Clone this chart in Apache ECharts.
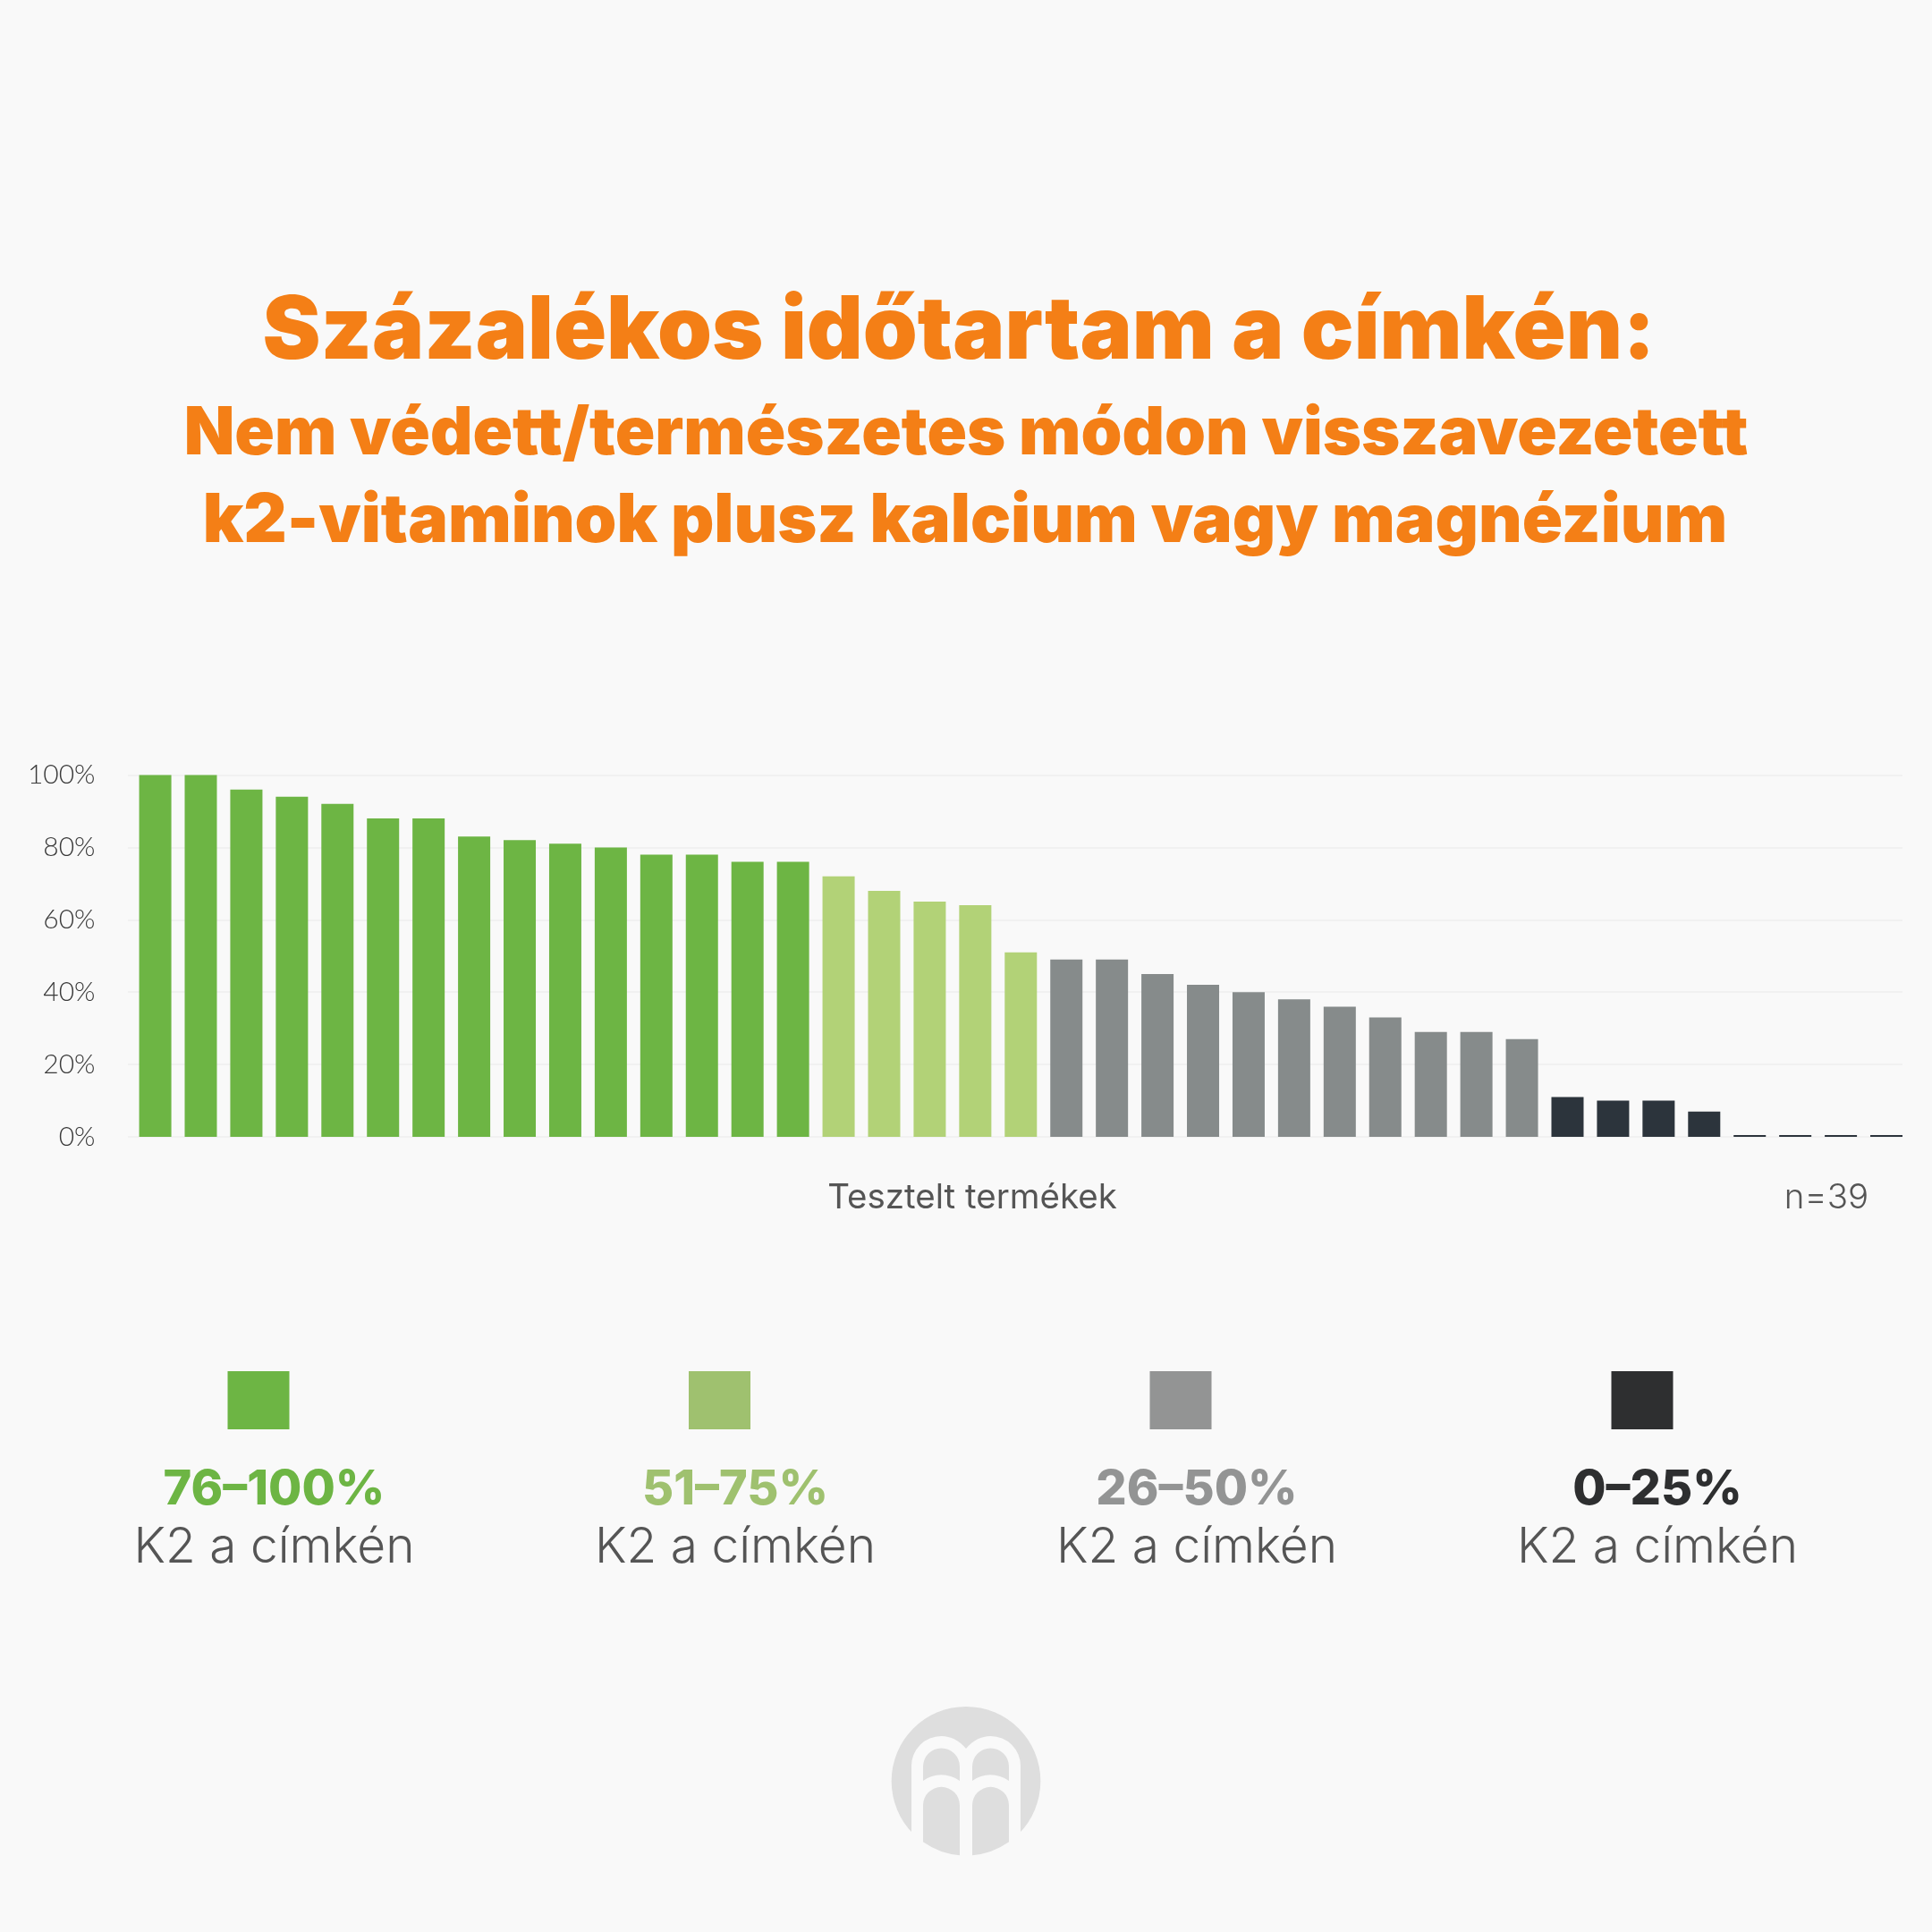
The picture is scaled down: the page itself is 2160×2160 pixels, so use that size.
<!DOCTYPE html>
<html><head><meta charset="utf-8">
<style>html,body{margin:0;padding:0;background:#f9f9f9}#c{width:2160px;height:2160px}</style>
<script src="https://cdn.jsdelivr.net/npm/echarts@6/dist/echarts.min.js"></script>
</head><body><div id="c"></div>
<script>
const productValues = [100,100,96,94,92,88,88,83,82,81,80,78,78,76,76,72,68,65,64,51,49,49,45,42,40,38,36,33,29,29,27,11,10,10,7,0,0,0,0];
const barBandFloors = [76,51,26,0];
const barBandColors = ['#6DB544','#B2D277','#868B8B','#2C343C'];
const legendRanges = ['76–100%','51–75%','26–50%','0–25%'];
const legendColors = ['#6DB544','#9FC16F','#939494','#2E2F30'];
const legendSubtitle = 'K2 a címkén';
const yTicks = [0,20,40,60,80,100];
const titleLines = ['Százalékos időtartam a címkén:','Nem védett/természetes módon visszavezetett','k2-vitaminok plusz kalcium vagy magnézium'];
const axisCaption = 'Tesztelt termékek';
const sampleNote = 'n=39';

const ORANGE = '#F47F16', HEAD = 'Inter', BODY = 'Inter';
const swatchX = [254.5,770,1285.5,1801.5], legendTextX = [306.5,822,1338,1853];
const graphics = [];
legendRanges.forEach((r,i)=>{
  graphics.push({type:'rect',shape:{x:swatchX[i],y:1533,width:69,height:65},style:{fill:legendColors[i]}});
  graphics.push({type:'text',x:legendTextX[i],y:1666,style:{text:r,fill:legendColors[i],font:'800 54px '+HEAD,textAlign:'center',textVerticalAlign:'middle'}});
  graphics.push({type:'text',x:legendTextX[i],y:1730,style:{text:legendSubtitle,fill:'#555555',font:'300 55px '+BODY,textAlign:'center',textVerticalAlign:'middle'}});
});
graphics.push({type:'text',x:1087,y:1339,style:{text:axisCaption,fill:'#555555',font:'400 38.5px '+BODY,textAlign:'center',textVerticalAlign:'middle'}});
graphics.push({type:'text',x:2042,y:1339,style:{text:sampleNote,fill:'#555555',font:'300 38.5px '+BODY,textAlign:'center',textVerticalAlign:'middle'}});
// logo
const logoPaths = [
 ['M110 334A250 250 0 1 1 610 334A250 250 0 1 1 110 334Z','#DEDEDE'],
 ['M177 600L177 283A100 100 0 0 1 277 183Q325 183 360 225Q395 183 443 183A100 100 0 0 1 543 283L543 600Z','#F9F9F9'],
 ['M216 333L216 285A61.5 61.5 0 0 1 339 285L339 333Q310 313 277 313Q244 313 216 333Z','#DEDEDE'],
 ['M381 333L381 285A61.5 61.5 0 0 1 504 285L504 333Q475 313 442 313Q409 313 381 333Z','#DEDEDE'],
 ['M216 538L216 415A61.5 61.5 0 0 1 339 415L339 583A250 250 0 0 1 216 538Z','#DEDEDE'],
 ['M381 583L381 415A61.5 61.5 0 0 1 504 415L504 538A250 250 0 0 1 381 583Z','#DEDEDE']
];
logoPaths.forEach((p,i)=>{
  echarts.graphic.registerShape('logoPart'+i, echarts.graphic.extendPath(p[0],{}));
  graphics.push({type:'logoPart'+i,x:960,y:1880,scaleX:1/3,scaleY:1/3,style:{fill:p[1]}});
});

const bandColor = v => barBandColors[barBandFloors.findIndex(f=>v>=f)];
const chart = echarts.init(document.getElementById('c'),null,{width:2160,height:2160,renderer:'canvas'});
chart.setOption({
  backgroundColor:'#F9F9F9',
  animation:false,
  title:[
    {text:titleLines[0],left:1067,top:318,textAlign:'center',textStyle:{color:ORANGE,fontFamily:HEAD,fontWeight:900,fontSize:97.6}},
    {text:titleLines[1],left:1075,top:444,textAlign:'center',textStyle:{color:ORANGE,fontFamily:HEAD,fontWeight:900,fontSize:73.6}},
    {text:titleLines[2],left:1074,top:541,textAlign:'center',textStyle:{color:ORANGE,fontFamily:HEAD,fontWeight:900,fontSize:75}}
  ],
  grid:{left:143,top:866.5,width:1984,height:404.5,containLabel:false},
  xAxis:{type:'value',min:-0.6,max:38.353,show:true,axisLine:{show:false},axisTick:{show:false},axisLabel:{show:false},splitLine:{show:false}},
  yAxis:{type:'value',min:yTicks[0],max:yTicks[yTicks.length-1],interval:yTicks[1]-yTicks[0],
    axisLine:{show:false},axisTick:{show:false},
    axisLabel:{formatter:'{value}%',margin:36.5,color:'#3A3A3A',fontFamily:'Lato',fontWeight:300,fontSize:30,padding:[0,0,3,0]},
    splitLine:{lineStyle:{color:'#EEEEEE',width:1.5}}},
  series:[{type:'bar',barWidth:36,barMinHeight:2,
    data:productValues.map((v,i)=>({value:[i,v],itemStyle:{color:bandColor(v)}}))}],
  graphic:graphics
});
</script></body></html>
